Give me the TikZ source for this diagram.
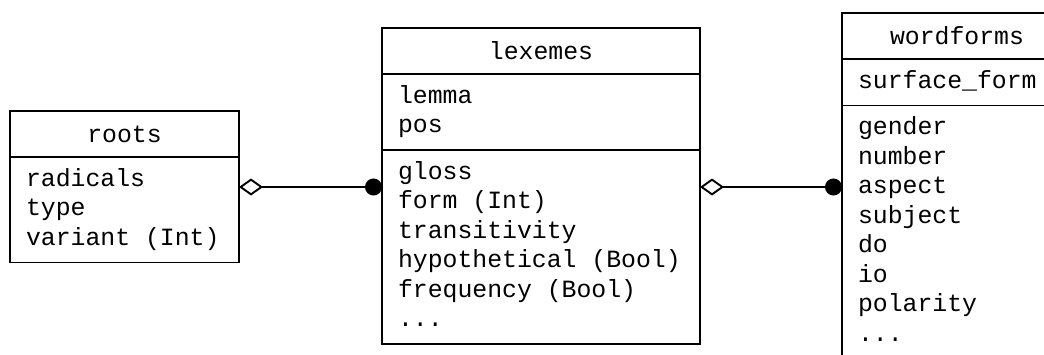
\documentclass[tikz,border=0pt]{standalone}
\usepackage{fontspec}
\newfontfamily\tabmono{Liberation Mono}
\newcommand{\tsp}{\hspace*{0.6em}}
\usetikzlibrary{positioning}
\usetikzlibrary{arrows.meta}

\tikzset{
  tabfont/.style={font=\tabmono\fontsize{24.8}{29.5}\selectfont},
  tabhead/.style={draw, line width=1.9pt, tabfont, minimum height=46pt, inner sep=0pt, outer sep=0pt},
  tabbody/.style={draw, line width=1.9pt, tabfont, align=left, inner xsep=16pt, inner ysep=8.5pt,
    outer sep=0pt, execute at begin node=\strut, execute at end node=\strut},
  link/.style={line width=1.9pt, {Diamond[open,length=24pt,width=17pt]}-{Circle[length=17pt]}}
}

\begin{document}
\begin{tikzpicture}[x=1pt,y=-1pt]
        \clip (0,0) rectangle (1044,354);

        % Roots table
        \node[tabhead, minimum width=229pt, anchor=north west] (roots) at (10,111) {roots};
        \node[tabbody, text width=197pt, below=0pt of roots] (roots-f) {radicals\\type\\variant\tsp(Int)};

        % Lexemes table
        \node[tabhead, minimum width=318pt, anchor=north west] (lexemes) at (382,28) {lexemes};
        \node[tabbody, text width=286pt, below=0pt of lexemes] (lexemes-k) {lemma\\pos};
        \node[tabbody, text width=286pt, below=0pt of lexemes-k] (lexemes-g)
          {gloss\\form\tsp(Int)\\transitivity\\hypothetical\tsp(Bool)\\frequency\tsp(Bool)\\...};

        % Wordforms table
        \node[tabhead, minimum width=230pt, anchor=north west] (wordforms) at (842,13) {wordforms};
        \node[tabbody, text width=198pt, below=0pt of wordforms] (wordforms-k) {surface\_form};
        \node[tabbody, text width=198pt, below=0pt of wordforms-k] (wordforms-g)
          {gender\\number\\aspect\\subject\\do\\io\\polarity\\...};

        % Links
        \coordinate (linkrow) at (0,187);
        \draw[link] (roots-f.east |- linkrow) -- (lexemes-g.west |- linkrow);
        \draw[link] (lexemes-g.east |- linkrow) -- (wordforms-g.west |- linkrow);
    \end{tikzpicture}
\end{document}
